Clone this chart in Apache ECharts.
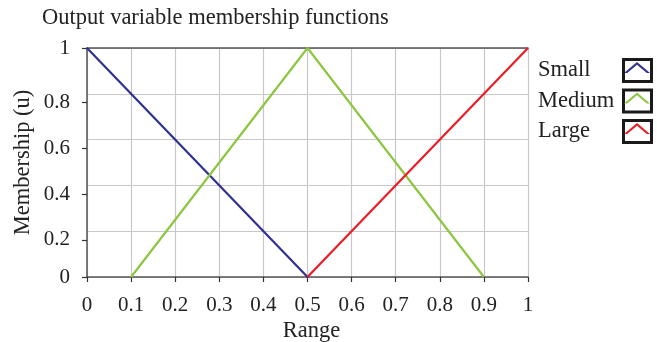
<!DOCTYPE html>
<html>
<head>
<meta charset="utf-8">
<script src="https://cdn.jsdelivr.net/npm/echarts@6/dist/echarts.min.js"></script>
<style>
html,body{margin:0;padding:0;background:#fff;}
#c{width:657px;height:342px;}
</style>
</head>
<body>
<div id="c"></div>
<script>
// ---- data ----
const seriesNames = ['Small', 'Medium', 'Large'];
const smallX = [0, 0.5];
const smallY = [1, 0];
const mediumX = [0.1, 0.5, 0.9];
const mediumY = [0, 1, 0];
const largeX = [0.5, 1];
const largeY = [0, 1];
const yInnerTicks = [0.2, 0.4, 0.6, 0.8];
const yEndTicks = [0, 1];
const titleText = 'Output variable membership functions';
const xName = 'Range';
const yName = 'Membership (u)';

const FONT = 'Liberation Serif';
const colors = ['#2e3192', '#8dc63f', '#ed1c24'];

function pairs(xs, ys) { return xs.map((x, i) => [x, ys[i]]); }

const chart = echarts.init(document.getElementById('c'));
const chevron = 'path://M0,11 L13,0 L26,11 L22.8,11 L13,2.7 L3.2,11 Z';

chart.setOption({
  animation: false,
  textStyle: { fontFamily: FONT },
  title: {
    text: titleText, left: 42, top: 7, padding: 0,
    textStyle: { fontFamily: FONT, fontSize: 22.5, fontWeight: 'normal', color: '#222' }
  },
  grid: { left: 87, right: 129, top: 48, bottom: 65, outerBoundsMode: 'none', containLabel: false },
  legend: [
    {
      data: seriesNames, orient: 'vertical', left: 533, top: 58, padding: 0,
      icon: 'rect', itemWidth: 0, itemHeight: 25, itemGap: 5.5,
      itemStyle: { opacity: 0 },
      textStyle: { fontFamily: FONT, fontSize: 22.5, color: '#222' }
    },
    {
      data: seriesNames, orient: 'vertical', left: 622, top: 58, z: 3, padding: 0,
      icon: 'rect', itemWidth: 28, itemHeight: 22, itemGap: 5.5,
      itemStyle: { color: '#fff', borderColor: '#1a1a1a', borderWidth: 3 },
      formatter: () => '',
      textStyle: { fontSize: 1, lineHeight: 1 }
    },
    {
      data: seriesNames, orient: 'vertical', left: 624, top: 62, z: 4, padding: 0,
      icon: chevron, itemWidth: 26, itemHeight: 11, itemGap: 19.5,
      itemStyle: { borderWidth: 0 },
      formatter: () => '',
      textStyle: { fontSize: 1, lineHeight: 1 }
    }
  ],
  xAxis: [
    {
      type: 'value', min: 0, max: 1, interval: 0.1, position: 'bottom',
      name: xName, nameLocation: 'middle', nameGap: 43,
      nameTextStyle: { fontFamily: FONT, fontSize: 22.5, color: '#222', padding: [0, 0, 0, 8] },
      axisLine: { show: true, lineStyle: { color: '#555', width: 1.5 } },
      axisTick: { show: false },
      axisLabel: { show: false },
      splitLine: { show: true, lineStyle: { color: '#c8c8c8', width: 1.2 } }
    },
    {
      type: 'value', min: 0, max: 1, interval: 0.1, position: 'bottom', offset: 3,
      axisLine: { show: false },
      axisTick: { show: true, inside: false, length: 5, lineStyle: { color: '#333', width: 1.2 } },
      axisLabel: { show: true, margin: 15, fontFamily: FONT, fontSize: 21, color: '#222' },
      splitLine: { show: false }
    },
    {
      type: 'value', min: 0, max: 1, position: 'top',
      axisLine: { show: true, lineStyle: { color: '#555', width: 1.5 } },
      axisTick: { show: false }, axisLabel: { show: false }, splitLine: { show: false }
    }
  ],
  yAxis: [
    {
      type: 'value', min: 0, max: 1, interval: 0.2, position: 'left',
      name: yName, nameLocation: 'middle', nameGap: 52,
      nameTextStyle: { fontFamily: FONT, fontSize: 22.5, color: '#222' },
      axisLine: { show: true, lineStyle: { color: '#555', width: 1.5 } },
      axisTick: { show: false },
      axisLabel: { show: false },
      splitLine: { show: true, lineStyle: { color: '#c8c8c8', width: 1.2 } }
    },
    {
      type: 'value', min: 0.038, max: 1.038, position: 'left', offset: 5,
      axisLine: { show: false },
      axisTick: { show: true, length: 5, customValues: yInnerTicks, lineStyle: { color: '#333', width: 1.2 } },
      axisLabel: { show: true, margin: 12, padding: [4, 0, 0, 0], customValues: yInnerTicks, fontFamily: FONT, fontSize: 21, color: '#222' },
      splitLine: { show: false }
    },
    {
      type: 'value', min: 0, max: 1, position: 'left', offset: 5,
      axisLine: { show: false },
      axisTick: { show: true, length: 5, customValues: yEndTicks, lineStyle: { color: '#333', width: 1.2 } },
      axisLabel: { show: true, margin: 12, padding: [4, 0, 0, 0], customValues: yEndTicks, fontFamily: FONT, fontSize: 21, color: '#222' },
      splitLine: { show: false }
    }
  ],
  series: [
    { name: 'Small', type: 'line', data: pairs(smallX, smallY), symbol: 'none',
      lineStyle: { width: 2.2, color: colors[0] }, itemStyle: { color: colors[0] } },
    { name: 'Medium', type: 'line', data: pairs(mediumX, mediumY), symbol: 'none',
      lineStyle: { width: 2.2, color: colors[1] }, itemStyle: { color: colors[1] } },
    { name: 'Large', type: 'line', data: pairs(largeX, largeY), symbol: 'none',
      lineStyle: { width: 2.2, color: colors[2] }, itemStyle: { color: colors[2] } }
  ]
});
</script>
</body>
</html>
